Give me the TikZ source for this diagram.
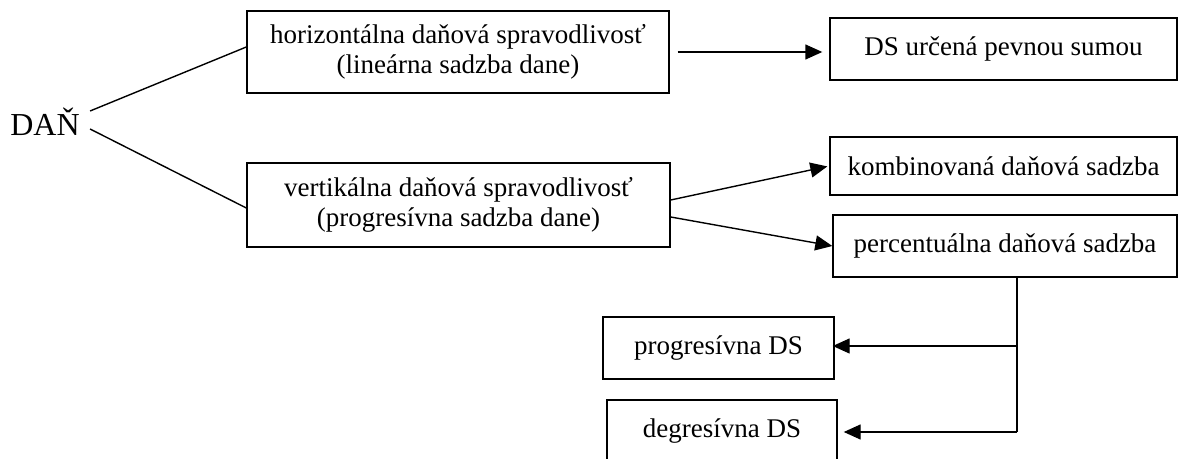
\documentclass[tikz,border=0pt]{standalone}
\usepackage{fontspec}
\setmainfont{Liberation Serif}
\usetikzlibrary{arrows.meta,positioning}

\begin{document}
\begin{tikzpicture}[
  x=0.5pt, y=-0.5pt,
  every node/.style={font=\fontsize{13.5pt}{15pt}\selectfont},
  box/.style={draw, line width=0.7pt, align=center, inner sep=2pt},
  link/.style={line width=0.7pt},
  >={Triangle[length=8.5pt,width=7.5pt]}
]
  \useasboundingbox (0,0) rectangle (1178,459);

  \node[inner sep=5pt, font=\fontsize{16pt}{18pt}\selectfont] (dan) at (45,122) {DAŇ};

  \node[box, minimum width=211pt, minimum height=41pt] (horiz) at (458,52)
    {horizontálna daňová spravodlivosť\\(lineárna sadzba dane)};
  \node[box, minimum width=211.5pt, minimum height=42pt] (vert) at (458.5,205)
    {vertikálna daňová spravodlivosť\\(progresívna sadzba dane)};

  \node[box, minimum width=173.5pt, minimum height=31pt] (fixed) at (1003.5,49) {DS určená pevnou sumou};
  \node[box, minimum width=173.5pt, minimum height=29pt] (comb) at (1003.5,166) {kombinovaná daňová sadzba};
  \node[box, minimum width=172pt, minimum height=31pt] (perc) at (1005,246) {percentuálna daňová sadzba};

  \node[box, minimum width=115.5pt, minimum height=31pt] (prog) at (718.5,348) {progresívna DS};
  \node[box, minimum width=115pt, minimum height=31pt] (degr) at (722,431) {degresívna DS};

  \coordinate (j1) at (1017,346);
  \coordinate (j2) at (1017,432);

  \draw[link] ([yshift=5.5pt]dan.east) -- ([yshift=2.5pt]horiz.west);
  \draw[link] ([yshift=-3.5pt]dan.east) -- ([yshift=-1.5pt]vert.west);

  \draw[link,->,shorten <=4pt,shorten >=3.5pt] (horiz.east) -- (fixed.west |- horiz.east);
  \draw[link,->,shorten >=1pt] ([yshift=2.5pt]vert.east) -- (comb.west);
  \draw[link,->] ([yshift=-6pt]vert.east) -- (perc.west);

  \draw[link] (j1 |- perc.south) -- (j2);
  \draw[link,->,shorten >=-1pt] (j1) -- (prog.east |- j1);
  \draw[link,->,shorten >=3pt] (j2) -- (degr.east |- j2);
\end{tikzpicture}
\end{document}
